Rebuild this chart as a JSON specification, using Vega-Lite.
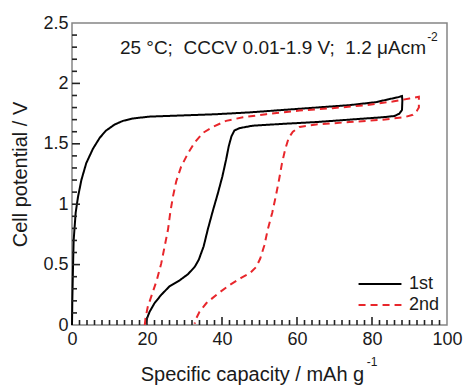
{
  "$schema": "https://vega.github.io/schema/vega-lite/v6.json",
  "width": 375,
  "height": 302,
  "autosize": "none",
  "padding": {"left": 72, "top": 23, "right": 18, "bottom": 62},
  "background": "white",
  "config": {
    "font": "Liberation Sans",
    "view": {"stroke": "#858585", "strokeWidth": 1.5}
  },
  "datasets": {
    "curves": [
      {"cycle": "1st", "seq": 1, "capacity": 0, "potential": 0},
      {"cycle": "1st", "seq": 2, "capacity": 0.09, "potential": 0.21},
      {"cycle": "1st", "seq": 3, "capacity": 0.27, "potential": 0.48},
      {"cycle": "1st", "seq": 4, "capacity": 0.44, "potential": 0.7},
      {"cycle": "1st", "seq": 5, "capacity": 0.98, "potential": 0.93},
      {"cycle": "1st", "seq": 6, "capacity": 1.6, "potential": 1.06},
      {"cycle": "1st", "seq": 7, "capacity": 2.5, "potential": 1.2},
      {"cycle": "1st", "seq": 8, "capacity": 3.8, "potential": 1.34},
      {"cycle": "1st", "seq": 9, "capacity": 5.6, "potential": 1.46},
      {"cycle": "1st", "seq": 10, "capacity": 7.4, "potential": 1.55},
      {"cycle": "1st", "seq": 11, "capacity": 9.1, "potential": 1.61},
      {"cycle": "1st", "seq": 12, "capacity": 11.4, "potential": 1.66},
      {"cycle": "1st", "seq": 13, "capacity": 13.6, "potential": 1.69},
      {"cycle": "1st", "seq": 14, "capacity": 16.3, "potential": 1.71},
      {"cycle": "1st", "seq": 15, "capacity": 20.7, "potential": 1.725},
      {"cycle": "1st", "seq": 16, "capacity": 29.6, "potential": 1.735},
      {"cycle": "1st", "seq": 17, "capacity": 38.5, "potential": 1.745},
      {"cycle": "1st", "seq": 18, "capacity": 47.3, "potential": 1.76},
      {"cycle": "1st", "seq": 19, "capacity": 56.2, "potential": 1.78},
      {"cycle": "1st", "seq": 20, "capacity": 65.1, "potential": 1.8},
      {"cycle": "1st", "seq": 21, "capacity": 74, "potential": 1.82},
      {"cycle": "1st", "seq": 22, "capacity": 81.1, "potential": 1.845},
      {"cycle": "1st", "seq": 23, "capacity": 84.6, "potential": 1.87},
      {"cycle": "1st", "seq": 24, "capacity": 86.9, "potential": 1.885},
      {"cycle": "1st", "seq": 25, "capacity": 88.0, "potential": 1.895},
      {"cycle": "1st", "seq": 26, "capacity": 88.1, "potential": 1.86},
      {"cycle": "1st", "seq": 27, "capacity": 88.0, "potential": 1.78},
      {"cycle": "1st", "seq": 28, "capacity": 87.3, "potential": 1.75},
      {"cycle": "1st", "seq": 29, "capacity": 86, "potential": 1.73},
      {"cycle": "1st", "seq": 30, "capacity": 82.9, "potential": 1.72},
      {"cycle": "1st", "seq": 31, "capacity": 74, "potential": 1.7},
      {"cycle": "1st", "seq": 32, "capacity": 65.1, "potential": 1.68},
      {"cycle": "1st", "seq": 33, "capacity": 56.2, "potential": 1.665},
      {"cycle": "1st", "seq": 34, "capacity": 48.2, "potential": 1.65},
      {"cycle": "1st", "seq": 35, "capacity": 44.7, "potential": 1.63},
      {"cycle": "1st", "seq": 36, "capacity": 43.3, "potential": 1.61},
      {"cycle": "1st", "seq": 37, "capacity": 42.5, "potential": 1.56},
      {"cycle": "1st", "seq": 38, "capacity": 41.8, "potential": 1.48},
      {"cycle": "1st", "seq": 39, "capacity": 41.1, "potential": 1.37},
      {"cycle": "1st", "seq": 40, "capacity": 40.1, "potential": 1.23},
      {"cycle": "1st", "seq": 41, "capacity": 38.9, "potential": 1.09},
      {"cycle": "1st", "seq": 42, "capacity": 37.6, "potential": 0.95},
      {"cycle": "1st", "seq": 43, "capacity": 36.2, "potential": 0.79},
      {"cycle": "1st", "seq": 44, "capacity": 35.1, "potential": 0.65},
      {"cycle": "1st", "seq": 45, "capacity": 33.8, "potential": 0.54},
      {"cycle": "1st", "seq": 46, "capacity": 32.7, "potential": 0.48},
      {"cycle": "1st", "seq": 47, "capacity": 30.9, "potential": 0.42},
      {"cycle": "1st", "seq": 48, "capacity": 28.7, "potential": 0.37},
      {"cycle": "1st", "seq": 49, "capacity": 26, "potential": 0.32},
      {"cycle": "1st", "seq": 50, "capacity": 23.8, "potential": 0.25},
      {"cycle": "1st", "seq": 51, "capacity": 22.0, "potential": 0.18},
      {"cycle": "1st", "seq": 52, "capacity": 20.7, "potential": 0.11},
      {"cycle": "1st", "seq": 53, "capacity": 20, "potential": 0.055},
      {"cycle": "1st", "seq": 54, "capacity": 19.6, "potential": 0.01},
      {"cycle": "2nd", "seq": 1, "capacity": 19.4, "potential": 0},
      {"cycle": "2nd", "seq": 2, "capacity": 19.6, "potential": 0.055},
      {"cycle": "2nd", "seq": 3, "capacity": 20.2, "potential": 0.15},
      {"cycle": "2nd", "seq": 4, "capacity": 21.4, "potential": 0.26},
      {"cycle": "2nd", "seq": 5, "capacity": 22.6, "potential": 0.37},
      {"cycle": "2nd", "seq": 6, "capacity": 23.8, "potential": 0.51},
      {"cycle": "2nd", "seq": 7, "capacity": 24.7, "potential": 0.65},
      {"cycle": "2nd", "seq": 8, "capacity": 25.6, "potential": 0.79},
      {"cycle": "2nd", "seq": 9, "capacity": 26.2, "potential": 0.93},
      {"cycle": "2nd", "seq": 10, "capacity": 26.9, "potential": 1.06},
      {"cycle": "2nd", "seq": 11, "capacity": 27.8, "potential": 1.19},
      {"cycle": "2nd", "seq": 12, "capacity": 29.1, "potential": 1.31},
      {"cycle": "2nd", "seq": 13, "capacity": 30.9, "potential": 1.42},
      {"cycle": "2nd", "seq": 14, "capacity": 32.7, "potential": 1.51},
      {"cycle": "2nd", "seq": 15, "capacity": 34.9, "potential": 1.59},
      {"cycle": "2nd", "seq": 16, "capacity": 37.6, "potential": 1.64},
      {"cycle": "2nd", "seq": 17, "capacity": 41.1, "potential": 1.69},
      {"cycle": "2nd", "seq": 18, "capacity": 45.6, "potential": 1.72},
      {"cycle": "2nd", "seq": 19, "capacity": 51.8, "potential": 1.745},
      {"cycle": "2nd", "seq": 20, "capacity": 60.7, "potential": 1.775},
      {"cycle": "2nd", "seq": 21, "capacity": 69.5, "potential": 1.795},
      {"cycle": "2nd", "seq": 22, "capacity": 78.4, "potential": 1.82},
      {"cycle": "2nd", "seq": 23, "capacity": 85.5, "potential": 1.85},
      {"cycle": "2nd", "seq": 24, "capacity": 90, "potential": 1.875},
      {"cycle": "2nd", "seq": 25, "capacity": 92.5, "potential": 1.89},
      {"cycle": "2nd", "seq": 26, "capacity": 92.5, "potential": 1.8},
      {"cycle": "2nd", "seq": 27, "capacity": 91.9, "potential": 1.77},
      {"cycle": "2nd", "seq": 28, "capacity": 90.9, "potential": 1.74},
      {"cycle": "2nd", "seq": 29, "capacity": 88.6, "potential": 1.72},
      {"cycle": "2nd", "seq": 30, "capacity": 82.9, "potential": 1.7},
      {"cycle": "2nd", "seq": 31, "capacity": 74, "potential": 1.68},
      {"cycle": "2nd", "seq": 32, "capacity": 65.1, "potential": 1.66},
      {"cycle": "2nd", "seq": 33, "capacity": 60.7, "potential": 1.64},
      {"cycle": "2nd", "seq": 34, "capacity": 58.9, "potential": 1.6},
      {"cycle": "2nd", "seq": 35, "capacity": 57.8, "potential": 1.55},
      {"cycle": "2nd", "seq": 36, "capacity": 56.9, "potential": 1.46},
      {"cycle": "2nd", "seq": 37, "capacity": 56, "potential": 1.34},
      {"cycle": "2nd", "seq": 38, "capacity": 55.2, "potential": 1.2},
      {"cycle": "2nd", "seq": 39, "capacity": 54.3, "potential": 1.06},
      {"cycle": "2nd", "seq": 40, "capacity": 53.4, "potential": 0.93},
      {"cycle": "2nd", "seq": 41, "capacity": 52.2, "potential": 0.79},
      {"cycle": "2nd", "seq": 42, "capacity": 51.3, "potential": 0.66},
      {"cycle": "2nd", "seq": 43, "capacity": 50.2, "potential": 0.55},
      {"cycle": "2nd", "seq": 44, "capacity": 49.1, "potential": 0.48},
      {"cycle": "2nd", "seq": 45, "capacity": 47.5, "potential": 0.43},
      {"cycle": "2nd", "seq": 46, "capacity": 45.1, "potential": 0.39},
      {"cycle": "2nd", "seq": 47, "capacity": 42, "potential": 0.33},
      {"cycle": "2nd", "seq": 48, "capacity": 38.9, "potential": 0.26},
      {"cycle": "2nd", "seq": 49, "capacity": 35.8, "potential": 0.18},
      {"cycle": "2nd", "seq": 50, "capacity": 34, "potential": 0.11},
      {"cycle": "2nd", "seq": 51, "capacity": 32.9, "potential": 0.04},
      {"cycle": "2nd", "seq": 52, "capacity": 32.7, "potential": 0.01}
    ],
    "xMinorTicks": [
      {"capacity": 2}, {"capacity": 4}, {"capacity": 6}, {"capacity": 8}, {"capacity": 10},
      {"capacity": 12}, {"capacity": 14}, {"capacity": 16}, {"capacity": 18},
      {"capacity": 22}, {"capacity": 24}, {"capacity": 26}, {"capacity": 28}, {"capacity": 30},
      {"capacity": 32}, {"capacity": 34}, {"capacity": 36}, {"capacity": 38},
      {"capacity": 42}, {"capacity": 44}, {"capacity": 46}, {"capacity": 48}, {"capacity": 50},
      {"capacity": 52}, {"capacity": 54}, {"capacity": 56}, {"capacity": 58},
      {"capacity": 62}, {"capacity": 64}, {"capacity": 66}, {"capacity": 68}, {"capacity": 70},
      {"capacity": 72}, {"capacity": 74}, {"capacity": 76}, {"capacity": 78},
      {"capacity": 82}, {"capacity": 84}, {"capacity": 86}, {"capacity": 88}, {"capacity": 90},
      {"capacity": 92}, {"capacity": 94}, {"capacity": 96}, {"capacity": 98}
    ],
    "xMajorTicks": [
      {"capacity": 20}, {"capacity": 40}, {"capacity": 60}, {"capacity": 80}
    ],
    "yMinorTicks": [
      {"potential": 0.1}, {"potential": 0.2}, {"potential": 0.3}, {"potential": 0.4},
      {"potential": 0.6}, {"potential": 0.7}, {"potential": 0.8}, {"potential": 0.9},
      {"potential": 1.1}, {"potential": 1.2}, {"potential": 1.3}, {"potential": 1.4},
      {"potential": 1.6}, {"potential": 1.7}, {"potential": 1.8}, {"potential": 1.9},
      {"potential": 2.1}, {"potential": 2.2}, {"potential": 2.3}, {"potential": 2.4}
    ],
    "yMajorTicks": [
      {"potential": 0.5}, {"potential": 1}, {"potential": 1.5}, {"potential": 2}
    ],
    "mainNote": [
      {"label": "25 °C;\u00a0 CCCV 0.01-1.9 V;\u00a0 1.2 μAcm", "capacity": 94.4, "potential": 2.24}
    ],
    "supNotes": [
      {"label": "-2", "capacity": 94.7, "potential": 2.35},
      {"label": "-1", "capacity": 78.6, "potential": -0.34}
    ]
  },
  "layer": [
    {
      "data": {"name": "curves"},
      "mark": {"type": "line", "strokeWidth": 2},
      "encoding": {
        "x": {
          "field": "capacity",
          "type": "quantitative",
          "scale": {"domain": [0, 100], "nice": false},
          "axis": {
            "orient": "bottom",
            "values": [0, 20, 40, 60, 80, 100],
            "format": "d",
            "labelOverlap": false,
            "labelFlush": false,
            "grid": false,
            "domain": false,
            "ticks": false,
            "labelPadding": 5,
            "labelFontSize": 18,
            "labelColor": "#1a1a1a",
            "title": "Specific capacity / mAh g",
            "titleFontSize": 20,
            "titleFontWeight": "normal",
            "titleColor": "#1a1a1a",
            "titleX": 180,
            "titlePadding": 16
          }
        },
        "y": {
          "field": "potential",
          "type": "quantitative",
          "scale": {"domain": [0, 2.5], "nice": false},
          "axis": {
            "orient": "left",
            "values": [0, 0.5, 1, 1.5, 2, 2.5],
            "labelExpr": "format(datum.value, '~g')",
            "labelOverlap": false,
            "labelFlush": false,
            "grid": false,
            "domain": false,
            "ticks": false,
            "labelPadding": 4,
            "labelFontSize": 18,
            "labelColor": "#1a1a1a",
            "title": "Cell potential / V",
            "titleFontSize": 20,
            "titleFontWeight": "normal",
            "titleColor": "#1a1a1a",
            "titlePadding": 12
          }
        },
        "color": {
          "field": "cycle",
          "type": "nominal",
          "scale": {"domain": ["1st", "2nd"], "range": ["#000000", "#e8262b"]},
          "legend": {
            "orient": "none",
            "legendX": 299,
            "legendY": 252,
            "title": null,
            "symbolType": "M-4,0H4",
            "symbolSize": 115,
            "symbolStrokeWidth": 2,
            "labelFontSize": 18,
            "labelColor": "#1a1a1a",
            "labelOffset": 20,
            "rowPadding": 3,
            "padding": 0
          }
        },
        "strokeDash": {
          "field": "cycle",
          "type": "nominal",
          "scale": {"domain": ["1st", "2nd"], "range": [[1, 0], [7, 5]]},
          "legend": {
            "orient": "none",
            "legendX": 299,
            "legendY": 252,
            "title": null,
            "symbolType": "M-4,0H4",
            "symbolSize": 115,
            "symbolStrokeWidth": 2,
            "labelFontSize": 18,
            "labelColor": "#1a1a1a",
            "labelOffset": 20,
            "rowPadding": 3,
            "padding": 0
          }
        },
        "order": {"field": "seq", "type": "quantitative"}
      }
    },
    {
      "data": {"name": "xMinorTicks"},
      "mark": {"type": "tick", "orient": "vertical", "color": "#222222", "thickness": 1.6, "size": 5, "yOffset": -2.5, "opacity": 1},
      "encoding": {
        "x": {"field": "capacity", "type": "quantitative"},
        "y": {"datum": 0, "type": "quantitative"}
      }
    },
    {
      "data": {"name": "xMajorTicks"},
      "mark": {"type": "tick", "orient": "vertical", "color": "#222222", "thickness": 1.6, "size": 8, "yOffset": -4, "opacity": 1},
      "encoding": {
        "x": {"field": "capacity", "type": "quantitative"},
        "y": {"datum": 0, "type": "quantitative"}
      }
    },
    {
      "data": {"name": "yMinorTicks"},
      "mark": {"type": "tick", "orient": "horizontal", "color": "#222222", "thickness": 1.6, "size": 5, "xOffset": 2.5, "opacity": 1},
      "encoding": {
        "x": {"datum": 0, "type": "quantitative"},
        "y": {"field": "potential", "type": "quantitative"}
      }
    },
    {
      "data": {"name": "yMajorTicks"},
      "mark": {"type": "tick", "orient": "horizontal", "color": "#222222", "thickness": 1.6, "size": 8, "xOffset": 4, "opacity": 1},
      "encoding": {
        "x": {"datum": 0, "type": "quantitative"},
        "y": {"field": "potential", "type": "quantitative"}
      }
    },
    {
      "data": {"name": "mainNote"},
      "mark": {"type": "text", "align": "right", "baseline": "alphabetic", "fontSize": 19, "color": "#1a1a1a"},
      "encoding": {
        "x": {"field": "capacity", "type": "quantitative"},
        "y": {"field": "potential", "type": "quantitative"},
        "text": {"field": "label"}
      }
    },
    {
      "data": {"name": "supNotes"},
      "mark": {"type": "text", "align": "left", "baseline": "alphabetic", "fontSize": 12, "color": "#1a1a1a"},
      "encoding": {
        "x": {"field": "capacity", "type": "quantitative"},
        "y": {"field": "potential", "type": "quantitative"},
        "text": {"field": "label"}
      }
    }
  ]
}
